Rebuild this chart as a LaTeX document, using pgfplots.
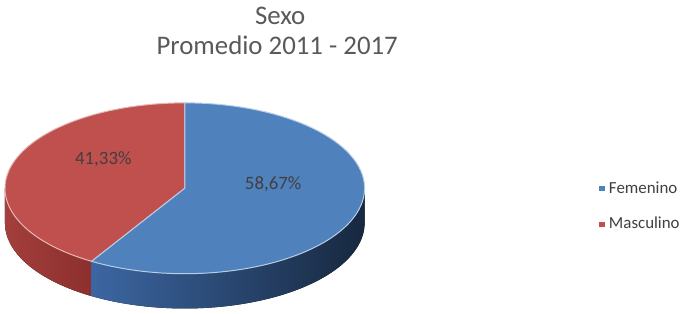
\documentclass[border=0pt]{standalone}
\usepackage{fontspec}
\setmainfont{Carlito}
\usepackage{pgfplots}
\usepackage{pgfplotstable}
\pgfplotsset{compat=1.18}
\usepgfplotslibrary{fillbetween}
\definecolor{femtop}{HTML}{4F81BD}
\definecolor{mastop}{HTML}{C0504D}
\definecolor{femwallL}{HTML}{3C66A2}
\definecolor{femwallR}{HTML}{17283F}
\definecolor{maswallL}{HTML}{A33F3C}
\definecolor{maswallR}{HTML}{8C2F2D}
\definecolor{titlegray}{HTML}{595959}
\definecolor{labelgray}{HTML}{404040}
\pgfplotsset{sqlegend/.style={legend image code/.code={\fill[##1] (0pt,-1.3pt) rectangle (2.6pt,1.3pt);}}}
\begin{document}
\begin{tikzpicture}
\pgfplotstableread{
sexo value
Femenino 58.67
Masculino 41.33
}\datatable
\pgfplotstablegetelem{0}{value}\of\datatable \let\vF\pgfplotsretval
\pgfplotstablegetelem{1}{value}\of\datatable \let\vM\pgfplotsretval
\pgfmathsetmacro\aS{90+3.6*\vM}
\pgfmathsetmacro\aE{\aS+3.6*\vF}
\def\cx{186}\def\cy{126}\def\rx{181}\def\ry{86}\def\dd{35}
\begin{axis}[scale only axis, width=345pt, height=157.5pt,
  xmin=0, xmax=690, ymin=0, ymax=315, axis lines=none, clip=false,
  legend style={at={(axis cs:597,107.5)}, anchor=west, draw=none, fill=none,
    font=\fontsize{8.5}{10}\selectfont\color{labelgray}, row sep=8.5pt,
    nodes={inner ysep=1pt, inner xsep=2.2pt}},
  legend cell align=left]
\path (axis cs:0,0) (axis cs:690,315);
% red wall
\addplot[name path=rt, draw=none, domain=180:\aS, samples=40, forget plot] ({\cx+\rx*cos(x)},{\cy+\ry*sin(x)});
\addplot[name path=rb, draw=none, domain=180:\aS, samples=40, forget plot] ({\cx+\rx*cos(x)},{\cy-\dd+\ry*sin(x)});
\addplot[left color=maswallL, right color=maswallR, draw=none, forget plot] fill between[of=rt and rb];
% blue wall
\addplot[name path=bt, draw=none, domain=\aS:360, samples=60, forget plot] ({\cx+\rx*cos(x)},{\cy+\ry*sin(x)});
\addplot[name path=bb, draw=none, domain=\aS:360, samples=60, forget plot] ({\cx+\rx*cos(x)},{\cy-\dd+\ry*sin(x)});
\addplot[left color=femwallL, right color=femwallR, draw=none, forget plot] fill between[of=bt and bb];
% top faces
\addplot[fill=mastop, draw=mastop!40!white, line width=0.5pt, domain=90:\aS, samples=60, forget plot]
  ({\cx+\rx*cos(x)},{\cy+\ry*sin(x)}) -- (axis cs:\cx,\cy) -- cycle;
\addplot[fill=femtop, draw=femtop!40!white, line width=0.5pt, domain=\aS:\aE, samples=80, forget plot]
  ({\cx+\rx*cos(x)},{\cy+\ry*sin(x)}) -- (axis cs:\cx,\cy) -- cycle;
% labels
\node[font=\fontsize{9.5}{11}\selectfont, text=labelgray] at (axis cs:104,155) {41,33\%};
\node[font=\fontsize{9.5}{11}\selectfont, text=labelgray] at (axis cs:275,130) {58,67\%};
% title
\node[font=\fontsize{13.5}{16}\selectfont, text=titlegray] at (axis cs:282,300) {Sexo};
\node[font=\fontsize{13.5}{16}\selectfont, text=titlegray] at (axis cs:279,270) {Promedio 2011 - 2017};
% legend
\addlegendimage{sqlegend, fill=femtop, draw=none}
\addlegendentry{Femenino}
\addlegendimage{sqlegend, fill=mastop, draw=none}
\addlegendentry{Masculino}
\end{axis}
\end{tikzpicture}
\end{document}
